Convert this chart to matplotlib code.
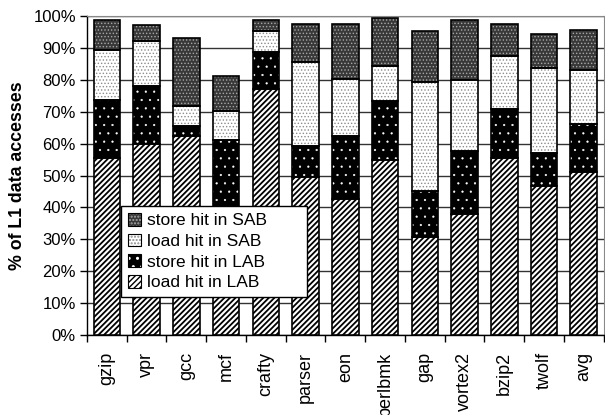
import numpy as np
import matplotlib as mpl
import matplotlib.pyplot as plt
from matplotlib.ticker import FixedLocator

plt.rcParams['font.family'] = ['Liberation Sans', 'DejaVu Sans']

benchmarks = ['gzip', 'vpr', 'gcc', 'mcf', 'crafty', 'parser', 'eon',
              'perlbmk', 'gap', 'vortex2', 'bzip2', 'twolf', 'avg']

# cumulative tops (%)
load_lab_top = [55.5, 60.0, 62.4, 25.0, 77.0, 49.4, 42.5, 55.0, 30.8, 38.0, 55.5, 46.6, 51.0]
store_lab_top = [73.6, 78.0, 65.6, 61.1, 88.7, 59.4, 62.5, 73.5, 45.2, 57.6, 70.8, 57.0, 66.1]
load_sab_top = [89.5, 92.2, 71.9, 70.4, 95.2, 85.5, 80.3, 84.5, 79.5, 79.9, 87.4, 83.8, 83.2]
store_sab_top = [98.9, 97.2, 93.0, 81.2, 98.9, 97.6, 97.6, 99.3, 95.5, 98.9, 97.6, 94.3, 95.8]

load_lab = np.array(load_lab_top)
store_lab = np.array(store_lab_top) - np.array(load_lab_top)
load_sab = np.array(load_sab_top) - np.array(store_lab_top)
store_sab = np.array(store_sab_top) - np.array(load_sab_top)

fig = plt.figure(figsize=(6.05, 4.15), dpi=100)
ax = fig.add_axes([0.1438, 0.193, 0.854, 0.768])

x = np.arange(len(benchmarks))
w = 0.67

# name, values, bottom, face, hatch, hatch colour, hatch linewidth
series = [
    ('load hit in LAB', load_lab, np.zeros(len(x)), 'white', '//////', 'black', 1.3),
    ('store hit in LAB', store_lab, load_lab, 'black', '..', 'white', 0.35),
    ('load hit in SAB', load_sab, load_lab + store_lab, 'white', '.....', '#8c8c8c', 0.6),
    ('store hit in SAB', store_sab, load_lab + store_lab + load_sab, '#383838', '.....', '#a8a8a8', 0.6),
]

handles = []
for name, vals, bottom, face, hatch, hcol, hlw in series:
    with mpl.rc_context({'hatch.linewidth': hlw}):
        ax.bar(x, vals, w, bottom=bottom, color=face, hatch=hatch,
               edgecolor=hcol, linewidth=0, zorder=3)
        h = plt.Rectangle((0, 0), 1, 1, facecolor=face, hatch=hatch,
                          edgecolor=hcol, linewidth=0)
    ax.bar(x, vals, w, bottom=bottom, fill=False, edgecolor='black',
           linewidth=1.2, zorder=4)
    box = plt.Rectangle((0, 0), 1, 1, fill=False, edgecolor='black', linewidth=0.8)
    handles.append(((h, box), name))

ax.set_xlim(-0.5, len(x) - 0.5)
ax.set_ylim(0, 100)
ax.set_yticks(np.arange(0, 101, 10))
ax.set_yticklabels(['%d%%' % v for v in range(0, 101, 10)], fontsize=12)
ax.yaxis.grid(True, color='#333333', linewidth=1.0, zorder=0)
ax.set_axisbelow(True)

ax.set_xticks(x)
ax.set_xticklabels(benchmarks, rotation=90, fontsize=13)
ax.tick_params(axis='x', length=0, pad=12)
ax.xaxis.set_minor_locator(FixedLocator(np.arange(-0.5, len(x), 1)))
ax.tick_params(axis='x', which='minor', length=5, width=1, color='black')
ax.tick_params(axis='y', length=5, width=1, pad=3)

for s in ['top', 'right']:
    ax.spines[s].set_color('#888888')
ax.spines['left'].set_linewidth(1.0)
ax.spines['bottom'].set_linewidth(1.0)

ax.set_ylabel('% of L1 data accesses', fontsize=12.8, fontweight='bold', labelpad=5)

leg_h = [h for h, n in handles][::-1]
leg_n = [n for h, n in handles][::-1]
leg = ax.legend(leg_h, leg_n, loc='lower left', bbox_to_anchor=(0.065, 0.118, 0.36, 0.295),
                mode='expand', fontsize=12.5, frameon=True, fancybox=False,
                edgecolor='black', framealpha=1, handlelength=0.75, handleheight=0.75,
                handletextpad=0.35, labelspacing=0.3, borderpad=0.4, borderaxespad=0)
leg.get_frame().set_linewidth(1.0)
leg.set_zorder(10)

fig.savefig('out.png', dpi=100)
